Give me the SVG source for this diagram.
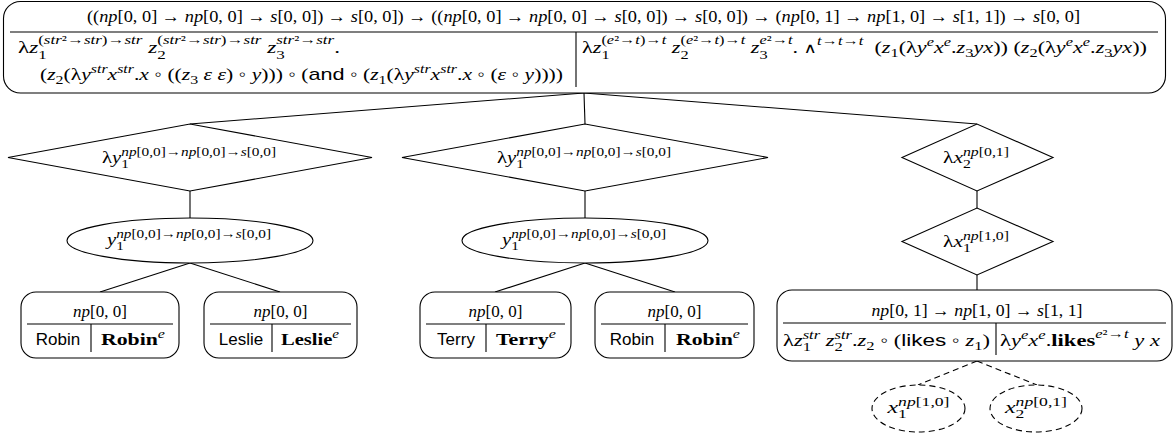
<svg xmlns="http://www.w3.org/2000/svg" width="1176" height="434" viewBox="0 0 1176 434">
<style>
.ln{fill:none;stroke:#000;stroke-width:1.1}
.sh{fill:#fff;stroke:#000;stroke-width:1.1}
.dash{stroke-dasharray:6 4}
text{font-family:"Liberation Serif","DejaVu Serif",serif;font-size:17px;fill:#000}
.i{font-style:italic}
.s{font-size:12.5px}
.sf{font-family:"Liberation Sans","DejaVu Sans",sans-serif;font-style:normal}
.b{font-weight:bold;font-style:normal}
.nb{font-weight:normal}
.w{font-family:"DejaVu Serif",serif;font-size:14px}
</style>
<rect width="1176" height="434" fill="#fff"/>
<g id="connectors">
<line class="ln" x1="584" y1="93" x2="190" y2="124"/>
<line class="ln" x1="584" y1="93" x2="585" y2="124"/>
<line class="ln" x1="584" y1="93" x2="977" y2="124"/>
<line class="ln" x1="190" y1="191" x2="190" y2="218"/>
<line class="ln" x1="585" y1="191" x2="585" y2="218"/>
<line class="ln" x1="977" y1="191" x2="977" y2="208"/>
<line class="ln" x1="977" y1="275" x2="977" y2="290"/>
<line class="ln" x1="190" y1="263" x2="100" y2="292"/>
<line class="ln" x1="190" y1="263" x2="280" y2="292"/>
<line class="ln" x1="585" y1="263" x2="495" y2="292"/>
<line class="ln" x1="585" y1="263" x2="675" y2="292"/>
<line class="ln dash" x1="977" y1="361" x2="918" y2="385"/>
<line class="ln dash" x1="977" y1="361" x2="1037" y2="385"/>
</g>
<g id="root">
<rect class="sh" x="3.5" y="1.5" width="1162" height="91.5" rx="17"/>
<line class="ln" x1="10" y1="32" x2="1158" y2="32"/>
<line class="ln" x1="576" y1="32" x2="576" y2="87"/>
<text x="87" y="22" textLength="993" lengthAdjust="spacingAndGlyphs">((<tspan class="i">np</tspan>[0, 0] → <tspan class="i">np</tspan>[0, 0] → <tspan class="i">s</tspan>[0, 0]) → <tspan class="i">s</tspan>[0, 0]) → ((<tspan class="i">np</tspan>[0, 0] → <tspan class="i">np</tspan>[0, 0] → <tspan class="i">s</tspan>[0, 0]) → <tspan class="i">s</tspan>[0, 0]) → (<tspan class="i">np</tspan>[0, 1] → <tspan class="i">np</tspan>[1, 0] → <tspan class="i">s</tspan>[1, 1]) → <tspan class="i">s</tspan>[0, 0]</text>
<text x="18" y="53" textLength="322" lengthAdjust="spacingAndGlyphs">λ<tspan class="i">z</tspan><tspan class="s" dy="6">1</tspan><tspan class="s" dx="-6.25" dy="-15">(<tspan class="i">str</tspan>²→<tspan class="i">str</tspan>)→<tspan class="i">str</tspan></tspan><tspan class="i" dy="9"> z</tspan><tspan class="s" dy="6">2</tspan><tspan class="s" dx="-6.25" dy="-15">(<tspan class="i">str</tspan>²→<tspan class="i">str</tspan>)→<tspan class="i">str</tspan></tspan><tspan class="i" dy="9"> z</tspan><tspan class="s" dy="6">3</tspan><tspan class="s" dx="-6.25" dy="-15"><tspan class="i">str</tspan>²→<tspan class="i">str</tspan></tspan><tspan dy="9">.</tspan></text>
<text x="40" y="80" textLength="523" lengthAdjust="spacingAndGlyphs">(<tspan class="i">z</tspan><tspan class="s" dy="4">2</tspan><tspan dy="-4">(λ</tspan><tspan class="i">y</tspan><tspan class="s i" dy="-7">str</tspan><tspan class="i" dy="7">x</tspan><tspan class="s i" dy="-7">str</tspan><tspan dy="7">.</tspan><tspan class="i">x</tspan> ◦ ((<tspan class="i">z</tspan><tspan class="s" dy="4">3</tspan><tspan dy="-4"> </tspan><tspan class="i">ε ε</tspan>) ◦ <tspan class="i">y</tspan>))) ◦ (<tspan class="sf">and</tspan> ◦ (<tspan class="i">z</tspan><tspan class="s" dy="4">1</tspan><tspan dy="-4">(λ</tspan><tspan class="i">y</tspan><tspan class="s i" dy="-7">str</tspan><tspan class="i" dy="7">x</tspan><tspan class="s i" dy="-7">str</tspan><tspan dy="7">.</tspan><tspan class="i">x</tspan> ◦ (<tspan class="i">ε</tspan> ◦ <tspan class="i">y</tspan>))))</text>
<text x="582" y="53" textLength="565" lengthAdjust="spacingAndGlyphs">λ<tspan class="i">z</tspan><tspan class="s" dy="6">1</tspan><tspan class="s" dx="-6.25" dy="-15">(<tspan class="i">e</tspan>²→<tspan class="i">t</tspan>)→<tspan class="i">t</tspan></tspan><tspan class="i" dy="9"> z</tspan><tspan class="s" dy="6">2</tspan><tspan class="s" dx="-6.25" dy="-15">(<tspan class="i">e</tspan>²→<tspan class="i">t</tspan>)→<tspan class="i">t</tspan></tspan><tspan class="i" dy="9"> z</tspan><tspan class="s" dy="6">3</tspan><tspan class="s" dx="-6.25" dy="-15"><tspan class="i">e</tspan>²→<tspan class="i">t</tspan></tspan><tspan dy="9">. </tspan><tspan class="w">∧</tspan><tspan class="s" dy="-8"><tspan class="i">t</tspan>→<tspan class="i">t</tspan>→<tspan class="i">t</tspan></tspan><tspan dy="8">&#160; (</tspan><tspan class="i">z</tspan><tspan class="s" dy="4">1</tspan><tspan dy="-4">(λ</tspan><tspan class="i">y</tspan><tspan class="s i" dy="-7">e</tspan><tspan class="i" dy="7">x</tspan><tspan class="s i" dy="-7">e</tspan><tspan dy="7">.</tspan><tspan class="i">z</tspan><tspan class="s" dy="4">3</tspan><tspan class="i" dy="-4">yx</tspan>)) (<tspan class="i">z</tspan><tspan class="s" dy="4">2</tspan><tspan dy="-4">(λ</tspan><tspan class="i">y</tspan><tspan class="s i" dy="-7">e</tspan><tspan class="i" dy="7">x</tspan><tspan class="s i" dy="-7">e</tspan><tspan dy="7">.</tspan><tspan class="i">z</tspan><tspan class="s" dy="4">3</tspan><tspan class="i" dy="-4">yx</tspan>))</text>
</g>
<g id="lam-y1-a">
<polygon class="sh" points="8,157.5 190,124 372,157.5 190,191"/>
<text x="102" y="163" textLength="174" lengthAdjust="spacingAndGlyphs">λ<tspan class="i">y</tspan><tspan class="s" dy="5">1</tspan><tspan class="s" dx="-6.25" dy="-12"><tspan class="i">np</tspan>[0,0]→<tspan class="i">np</tspan>[0,0]→<tspan class="i">s</tspan>[0,0]</tspan></text>
</g>
<g id="y1-a">
<ellipse class="sh" cx="190" cy="240.5" rx="123" ry="22.5"/>
<text x="107" y="245" textLength="164" lengthAdjust="spacingAndGlyphs"><tspan class="i">y</tspan><tspan class="s" dy="5">1</tspan><tspan class="s" dx="-6.25" dy="-12.5"><tspan class="i">np</tspan>[0,0]→<tspan class="i">np</tspan>[0,0]→<tspan class="i">s</tspan>[0,0]</tspan></text>
</g>
<g id="leaf1">
<rect class="sh" x="21" y="292" width="158" height="66" rx="15"/>
<line class="ln" x1="27" y1="324" x2="173" y2="324"/>
<line class="ln" x1="91" y1="324" x2="91" y2="352"/>
<text x="100" y="317" text-anchor="middle"><tspan class="i">np</tspan>[0, 0]</text>
<text class="sf" x="58" y="345" text-anchor="middle">Robin</text>
<text class="b" x="133" y="345" text-anchor="middle" textLength="64" lengthAdjust="spacingAndGlyphs">Robin<tspan class="s i nb" dy="-7">e</tspan></text>
</g>
<g id="leaf2">
<rect class="sh" x="204" y="292" width="153" height="66" rx="15"/>
<line class="ln" x1="210" y1="324" x2="351" y2="324"/>
<line class="ln" x1="272" y1="324" x2="272" y2="352"/>
<text x="280.5" y="317" text-anchor="middle"><tspan class="i">np</tspan>[0, 0]</text>
<text class="sf" x="241" y="345" text-anchor="middle">Leslie</text>
<text class="b" x="310" y="345" text-anchor="middle" textLength="58" lengthAdjust="spacingAndGlyphs">Leslie<tspan class="s i nb" dy="-7">e</tspan></text>
</g>
<g id="lam-y1-b">
<polygon class="sh" points="402,157.5 585,124 768,157.5 585,191"/>
<text x="497" y="163" textLength="174" lengthAdjust="spacingAndGlyphs">λ<tspan class="i">y</tspan><tspan class="s" dy="5">1</tspan><tspan class="s" dx="-6.25" dy="-12"><tspan class="i">np</tspan>[0,0]→<tspan class="i">np</tspan>[0,0]→<tspan class="i">s</tspan>[0,0]</tspan></text>
</g>
<g id="y1-b">
<ellipse class="sh" cx="585" cy="240.5" rx="123" ry="22.5"/>
<text x="502" y="245" textLength="164" lengthAdjust="spacingAndGlyphs"><tspan class="i">y</tspan><tspan class="s" dy="5">1</tspan><tspan class="s" dx="-6.25" dy="-12.5"><tspan class="i">np</tspan>[0,0]→<tspan class="i">np</tspan>[0,0]→<tspan class="i">s</tspan>[0,0]</tspan></text>
</g>
<g id="leaf3">
<rect class="sh" x="420" y="292" width="151" height="66" rx="15"/>
<line class="ln" x1="426" y1="324" x2="565" y2="324"/>
<line class="ln" x1="486" y1="324" x2="486" y2="352"/>
<text x="495.5" y="317" text-anchor="middle"><tspan class="i">np</tspan>[0, 0]</text>
<text class="sf" x="456" y="345" text-anchor="middle">Terry</text>
<text class="b" x="526" y="345" text-anchor="middle" textLength="60" lengthAdjust="spacingAndGlyphs">Terry<tspan class="s i nb" dy="-7">e</tspan></text>
</g>
<g id="leaf4">
<rect class="sh" x="595" y="292" width="159" height="66" rx="15"/>
<line class="ln" x1="601" y1="324" x2="748" y2="324"/>
<line class="ln" x1="665" y1="324" x2="665" y2="352"/>
<text x="674.5" y="317" text-anchor="middle"><tspan class="i">np</tspan>[0, 0]</text>
<text class="sf" x="632" y="345" text-anchor="middle">Robin</text>
<text class="b" x="708" y="345" text-anchor="middle" textLength="64" lengthAdjust="spacingAndGlyphs">Robin<tspan class="s i nb" dy="-7">e</tspan></text>
</g>
<g id="lam-x2">
<polygon class="sh" points="902,157.5 977,124 1053,157.5 977,191"/>
<text x="943" y="163" textLength="66" lengthAdjust="spacingAndGlyphs">λ<tspan class="i">x</tspan><tspan class="s" dy="5">2</tspan><tspan class="s" dx="-6.25" dy="-12"><tspan class="i">np</tspan>[0,1]</tspan></text>
</g>
<g id="lam-x1">
<polygon class="sh" points="902,241.5 977,208 1053,241.5 977,275"/>
<text x="943" y="247" textLength="66" lengthAdjust="spacingAndGlyphs">λ<tspan class="i">x</tspan><tspan class="s" dy="5">1</tspan><tspan class="s" dx="-6.25" dy="-12"><tspan class="i">np</tspan>[1,0]</tspan></text>
</g>
<g id="likes">
<rect class="sh" x="777" y="290" width="395" height="71" rx="15"/>
<line class="ln" x1="783" y1="323" x2="1166" y2="323"/>
<line class="ln" x1="996" y1="323" x2="996" y2="355"/>
<text x="977" y="316" text-anchor="middle" textLength="211" lengthAdjust="spacingAndGlyphs"><tspan class="i">np</tspan>[0, 1] → <tspan class="i">np</tspan>[1, 0] → <tspan class="i">s</tspan>[1, 1]</text>
<text x="783" y="346" textLength="207" lengthAdjust="spacingAndGlyphs">λ<tspan class="i">z</tspan><tspan class="s" dy="5">1</tspan><tspan class="s i" dx="-6.25" dy="-12">str</tspan><tspan class="i" dy="7"> z</tspan><tspan class="s" dy="5">2</tspan><tspan class="s i" dx="-6.25" dy="-12">str</tspan><tspan dy="7">.</tspan><tspan class="i">z</tspan><tspan class="s" dy="4">2</tspan><tspan dy="-4"> ◦ (</tspan><tspan class="sf">likes</tspan> ◦ <tspan class="i">z</tspan><tspan class="s" dy="4">1</tspan><tspan dy="-4">)</tspan></text>
<text x="1000" y="346" textLength="160" lengthAdjust="spacingAndGlyphs">λ<tspan class="i">y</tspan><tspan class="s i" dy="-7">e</tspan><tspan class="i" dy="7">x</tspan><tspan class="s i" dy="-7">e</tspan><tspan dy="7">.</tspan><tspan class="b">likes</tspan><tspan class="s" dy="-8"><tspan class="i">e</tspan>²→<tspan class="i">t</tspan></tspan><tspan class="i" dy="8"> y x</tspan></text>
</g>
<g id="x1">
<ellipse class="sh dash" cx="918.5" cy="408.5" rx="46.5" ry="23.5"/>
<text x="918.5" y="413" text-anchor="middle" textLength="62" lengthAdjust="spacingAndGlyphs"><tspan class="i">x</tspan><tspan class="s" dy="5">1</tspan><tspan class="s" dx="-6.25" dy="-12"><tspan class="i">np</tspan>[1,0]</tspan></text>
</g>
<g id="x2">
<ellipse class="sh dash" cx="1036" cy="408.5" rx="46" ry="23.5"/>
<text x="1036" y="413" text-anchor="middle" textLength="62" lengthAdjust="spacingAndGlyphs"><tspan class="i">x</tspan><tspan class="s" dy="5">2</tspan><tspan class="s" dx="-6.25" dy="-12"><tspan class="i">np</tspan>[0,1]</tspan></text>
</g>
</svg>
